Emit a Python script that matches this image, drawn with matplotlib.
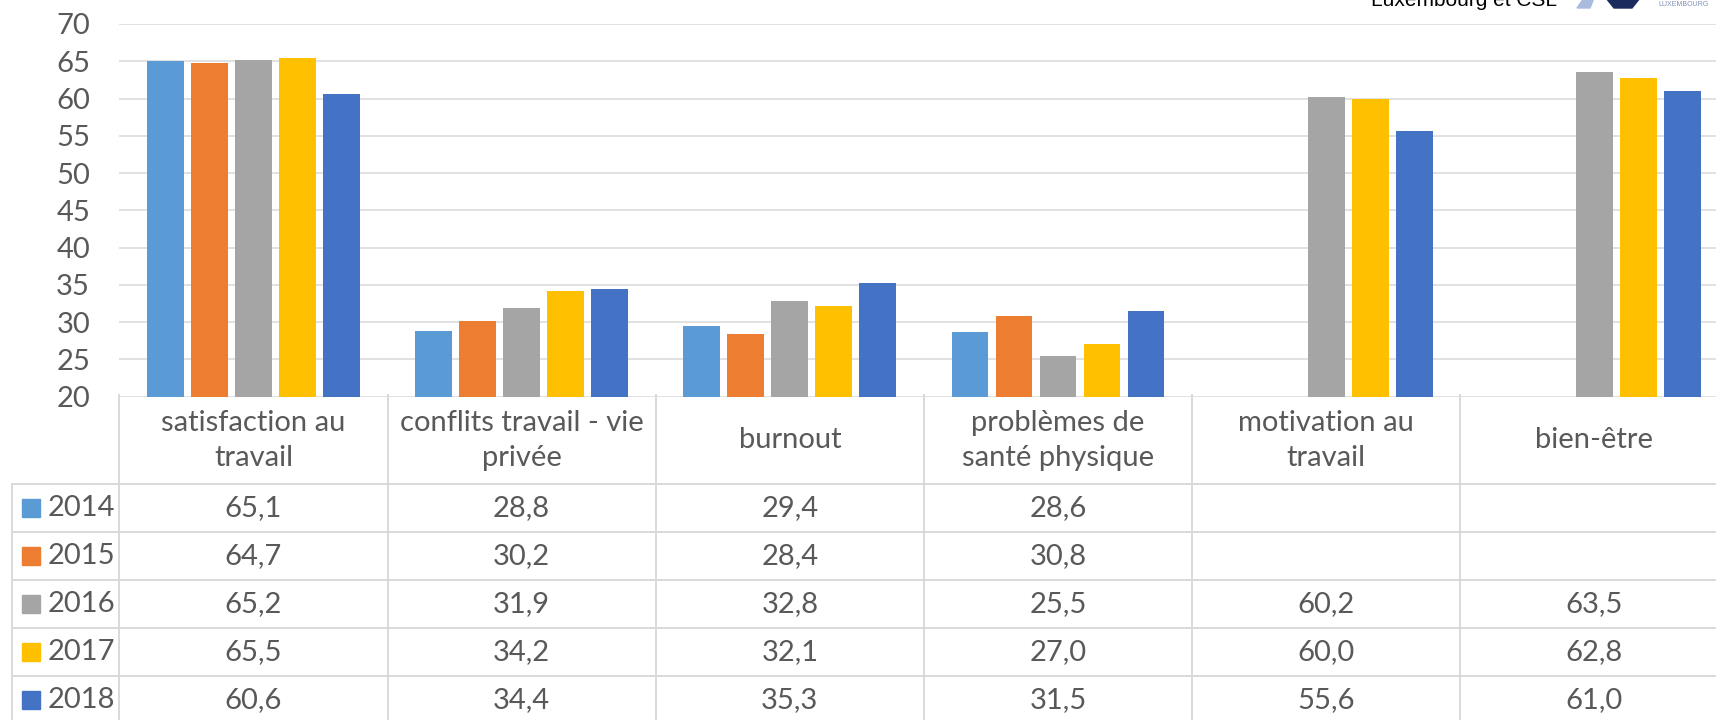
import matplotlib
matplotlib.use("Agg")
import matplotlib.pyplot as plt
from matplotlib.patches import Rectangle, Polygon
import numpy as np

# data
categories = ["satisfaction au\ntravail", "conflits travail - vie\nprivée", "burnout",
              "problèmes de\nsanté physique", "motivation au\ntravail", "bien-être"]
years = ["2014", "2015", "2016", "2017", "2018"]
v2014 = [65.1, 28.8, 29.4, 28.6, np.nan, np.nan]
v2015 = [64.7, 30.2, 28.4, 30.8, np.nan, np.nan]
v2016 = [65.2, 31.9, 32.8, 25.5, 60.2, 63.5]
v2017 = [65.5, 34.2, 32.1, 27.0, 60.0, 62.8]
v2018 = [60.6, 34.4, 35.3, 31.5, 55.6, 61.0]
series = [v2014, v2015, v2016, v2017, v2018]
colors = ["#5B9BD5", "#ED7D31", "#A5A5A5", "#FFC000", "#4472C4"]
yticks = list(range(20, 75, 5))

TXT = "#595959"
GRID = "#D9D9D9"
FONT = "Lato"
plt.rcParams["font.family"] = [FONT, "DejaVu Sans"]

W, H = 1716, 720
fig = plt.figure(figsize=(W / 100, H / 100), dpi=100)
fig.patch.set_facecolor("white")

# bar chart area (extends past the right edge, like the cropped original)
left_px, right_px, top_px, bot_px = 119.3, 1728.6, 24, 396.5
ax = fig.add_axes([left_px / W, 1 - bot_px / H, (right_px - left_px) / W, (bot_px - top_px) / H])
x = np.arange(len(categories))
step, width = 0.164, 0.137
for j, (vals, c) in enumerate(zip(series, colors)):
    ax.bar(x + (j - 2) * step, vals, width=width, color=c, zorder=3)
ax.set_xlim(-0.5, len(categories) - 0.5)
ax.set_ylim(20, 70)
ax.set_yticks(yticks)
ax.set_xticks([])
ax.grid(True, axis="y", color=GRID, linewidth=1.1, zorder=0)
ax.tick_params(axis="y", length=0, pad=21, labelsize=21, labelcolor=TXT)
for s in ax.spines.values():
    s.set_visible(False)
ax.set_facecolor("none")

# data table under the chart, drawn in pixel coords
tax = fig.add_axes([0, 0, 1, 1])
tax.set_xlim(0, W)
tax.set_ylim(H, 0)
tax.axis("off")
tax.set_facecolor("none")

bounds = [ax.transData.transform((b - 0.5, 20))[0] for b in range(len(categories) + 1)]
head_top, head_bot, row_h = 395, 484, 48
row_tops = [head_bot + i * row_h for i in range(len(years) + 1)]
leg_left = 11.7
lw = 1.4

for b in bounds:
    tax.plot([b, b], [head_top, H + 10], color=GRID, lw=lw, clip_on=False)
tax.plot([leg_left, leg_left], [head_bot, H + 10], color=GRID, lw=lw)
for y in row_tops:
    tax.plot([leg_left, W + 20], [y, y], color=GRID, lw=lw)

for i, cat in enumerate(categories):
    cx = (bounds[i] + bounds[i + 1]) / 2
    tax.text(cx, (head_top + head_bot) / 2 + 1, cat, ha="center", va="center",
             fontsize=21, color=TXT, linespacing=1.45)

for r, (yr, vals, c) in enumerate(zip(years, series, colors)):
    cy = row_tops[r] + row_h / 2
    tax.add_patch(Rectangle((22, cy - 9), 18, 18, color=c))
    tax.text(48, cy, yr, ha="left", va="center", fontsize=21, color=TXT)
    for i, v in enumerate(vals):
        if np.isnan(v):
            continue
        cx = (bounds[i] + bounds[i + 1]) / 2
        tax.text(cx, cy, f"{v:.1f}".replace(".", ","), ha="center", va="center",
                 fontsize=21, color=TXT)

# cropped source note and logo at the top right
tax.text(1557, 6, "Luxembourg et CSL", ha="right", va="baseline", fontsize=15,
         color="black", family="Liberation Sans")
tax.add_patch(Polygon([[1577, 8], [1584, -2], [1594, -2], [1590, 8]], color="#A9BCE0"))
tax.add_patch(Polygon([[1606, -2], [1614, 8], [1632, 8], [1640, -2]], color="#1C2B5E"))
tax.text(1658, 6, "LUXEMBOURG", ha="left", va="baseline", fontsize=5, color="#7F8FB5",
         family="Liberation Sans")

fig.savefig("out.png", dpi=100)
